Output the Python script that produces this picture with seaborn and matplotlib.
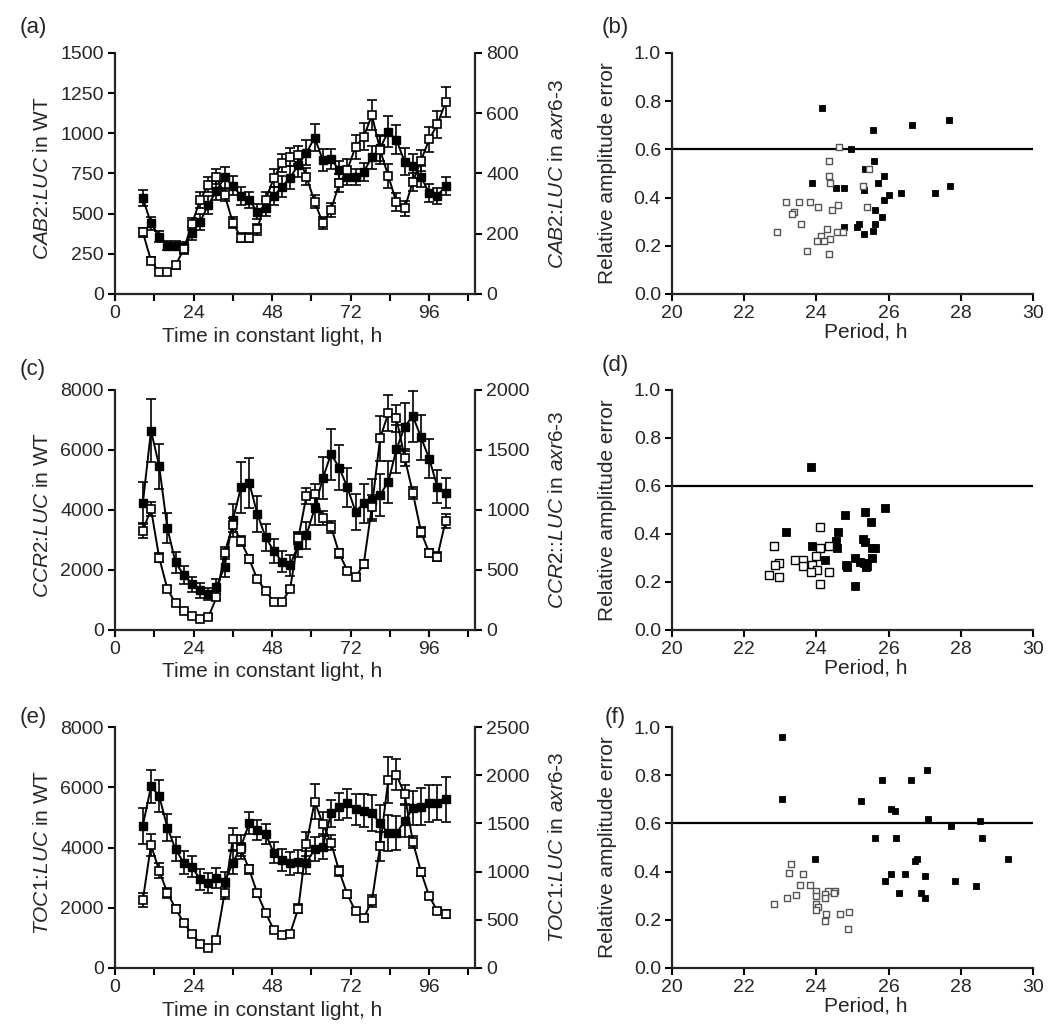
import matplotlib
matplotlib.use("Agg")
import matplotlib.pyplot as plt
import seaborn as sns

# ---------------- data ----------------
hours = [8.5, 11, 13.5, 16, 18.5, 21, 23.5, 26, 28.5, 31, 33.5, 36, 38.5, 41, 43.5,
         46, 48.5, 51, 53.5, 56, 58.5, 61, 63.5, 66, 68.5, 71, 73.5, 76, 78.5, 81,
         83.5, 86, 88.5, 91, 93.5, 96, 98.5, 101]

# (a) CAB2:LUC
cab2_wt = [596, 440, 357, 301, 301, 295, 378, 450, 554, 643, 726, 674, 610, 585, 513,
           533, 610, 668, 724, 803, 880, 973, 834, 840, 772, 730, 730, 761, 851, 907,
           1011, 959, 824, 797, 730, 627, 610, 674]
cab2_wt_err = [50, 40, 35, 30, 30, 30, 40, 50, 55, 60, 65, 60, 55, 50, 45, 45, 55, 65,
               70, 75, 80, 85, 70, 60, 55, 50, 50, 55, 70, 80, 95, 90, 85, 75, 65, 55, 50, 55]
cab2_mut = [205, 111, 72, 72, 95, 149, 232, 312, 362, 389, 329, 237, 187, 187, 215,
            312, 384, 434, 456, 461, 389, 306, 235, 279, 367, 412, 489, 522, 594, 478,
            392, 304, 284, 373, 443, 513, 563, 636]
cab2_mut_err = [15, 12, 10, 10, 12, 15, 20, 25, 25, 25, 20, 18, 15, 15, 18, 25, 30, 30,
                30, 30, 28, 22, 20, 22, 30, 35, 40, 45, 50, 45, 40, 30, 25, 30, 35, 40, 45, 50]

# (c) CCR2:LUC
ccr2_wt = [4222, 6644, 5466, 3389, 2255, 1833, 1533, 1333, 1189, 1444, 2111, 3666, 4755,
           4911, 3866, 3089, 2644, 2278, 2166, 2833, 3166, 4055, 5055, 5866, 5411, 4755,
           3944, 4222, 4333, 4500, 4944, 6022, 6777, 7133, 6422, 5711, 4777, 4555]
ccr2_wt_err = [700, 1050, 750, 500, 350, 300, 250, 250, 200, 250, 350, 550, 850, 830, 600,
               450, 400, 350, 350, 400, 450, 550, 700, 850, 750, 650, 600, 650, 700, 700,
               700, 800, 800, 850, 750, 650, 550, 500]
ccr2_mut = [828, 1008, 603, 342, 222, 161, 117, 89, 106, 272, 644, 875, 742, 592, 422,
            328, 236, 231, 342, 764, 1117, 1133, 931, 861, 639, 494, 439, 550, 1028, 1597,
            1806, 1764, 1436, 1144, 819, 644, 611, 908]
ccr2_mut_err = [60, 60, 40, 25, 20, 15, 12, 12, 15, 25, 50, 60, 45, 30, 25, 20, 15, 15,
                25, 50, 70, 80, 60, 50, 35, 25, 25, 35, 100, 190, 150, 110, 70, 50, 40, 35, 40, 60]

# (e) TOC1:LUC
toc1_wt = [4727, 6025, 5714, 4660, 3939, 3495, 3362, 2940, 2829, 2974, 2863, 3495, 4028,
           4805, 4583, 4449, 3828, 3584, 3473, 3528, 3495, 3939, 4028, 5137, 5359, 5470,
           5271, 5226, 5137, 4805, 4472, 4472, 4882, 5304, 5359, 5470, 5492, 5603]
toc1_wt_err = [600, 550, 530, 450, 400, 380, 350, 350, 330, 330, 340, 380, 400, 360, 340,
               330, 350, 360, 380, 380, 380, 400, 420, 440, 450, 480, 520, 560, 600, 620,
               600, 560, 520, 560, 600, 620, 570, 750]
toc1_mut = [704, 1276, 1009, 780, 617, 468, 357, 253, 211, 295, 780, 1338, 1231, 1023, 773,
            572, 399, 340, 357, 617, 1286, 1727, 1494, 1300, 1005, 763, 589, 520, 697, 1265,
            1952, 2004, 1803, 1310, 998, 745, 593, 558]
toc1_mut_err = [70, 110, 80, 50, 40, 30, 25, 25, 25, 30, 60, 110, 70, 50, 40, 30, 25, 25,
                25, 50, 120, 180, 120, 80, 50, 40, 30, 30, 60, 150, 240, 160, 100, 60, 40, 30, 30, 40]

# (b) scatter
b_per_filled = [24.16, 25.57, 26.66, 27.66, 24.96, 25.60, 25.36, 25.86, 23.88, 25.72, 24.55,
                24.76, 25.32, 26.34, 27.29, 27.69, 26.02, 25.87, 25.62, 25.82, 24.76, 25.13,
                25.18, 25.61, 25.57, 25.33]
b_err_filled = [0.772, 0.682, 0.700, 0.721, 0.600, 0.550, 0.519, 0.490, 0.459, 0.459, 0.438,
                0.438, 0.431, 0.420, 0.420, 0.449, 0.409, 0.390, 0.349, 0.320, 0.280, 0.280,
                0.289, 0.289, 0.262, 0.250]
b_per_open = [24.63, 24.34, 24.35, 24.37, 25.45, 25.29, 23.15, 23.52, 23.81, 24.04, 24.60,
              24.44, 25.41, 23.38, 23.32, 23.57, 22.92, 24.28, 24.57, 24.75, 24.12, 24.39,
              24.03, 24.21, 23.75, 24.34]
b_err_open = [0.609, 0.550, 0.490, 0.459, 0.519, 0.449, 0.380, 0.380, 0.380, 0.359, 0.369,
              0.349, 0.360, 0.341, 0.330, 0.289, 0.259, 0.270, 0.259, 0.259, 0.239, 0.230,
              0.220, 0.220, 0.179, 0.168]

# (d) scatter
d_per_filled = [23.84, 23.17, 24.78, 25.36, 25.89, 25.52, 24.61, 24.55, 25.29, 25.34, 23.89,
                24.58, 25.54, 25.63, 24.23, 25.08, 25.54, 25.20, 25.31, 24.81, 24.86, 25.40,
                25.38, 25.08]
d_err_filled = [0.679, 0.410, 0.479, 0.490, 0.509, 0.448, 0.410, 0.371, 0.379, 0.368, 0.350,
                0.343, 0.341, 0.341, 0.290, 0.299, 0.299, 0.283, 0.279, 0.272, 0.262, 0.268,
                0.262, 0.182]
d_per_open = [24.09, 22.83, 24.09, 24.35, 24.00, 23.40, 23.63, 22.96, 22.84, 23.63, 23.88,
              24.03, 23.86, 24.34, 22.68, 22.96, 24.09]
d_err_open = [0.430, 0.350, 0.341, 0.350, 0.310, 0.292, 0.292, 0.281, 0.269, 0.268, 0.269,
              0.251, 0.241, 0.241, 0.230, 0.221, 0.192]

# (f) scatter
f_per_filled = [23.06, 23.05, 25.23, 25.83, 26.63, 27.05, 26.06, 26.17, 27.08, 28.52, 27.74,
                25.62, 26.20, 28.58, 23.96, 26.72, 26.80, 29.31, 25.91, 26.08, 26.45, 27.00,
                27.84, 28.43, 26.30, 26.90, 27.02]
f_err_filled = [0.959, 0.701, 0.691, 0.779, 0.779, 0.821, 0.661, 0.651, 0.619, 0.612, 0.589,
                0.541, 0.541, 0.541, 0.451, 0.444, 0.451, 0.451, 0.363, 0.390, 0.390, 0.383,
                0.363, 0.342, 0.313, 0.313, 0.292]
f_per_open = [23.29, 23.24, 23.63, 23.54, 23.81, 23.98, 24.32, 24.51, 24.48, 23.43, 23.98,
              24.23, 24.23, 23.18, 22.83, 24.00, 24.05, 24.00, 24.26, 24.66, 24.89, 24.24, 24.88]
f_err_open = [0.432, 0.396, 0.389, 0.345, 0.345, 0.321, 0.321, 0.321, 0.310, 0.303, 0.299,
              0.306, 0.292, 0.292, 0.265, 0.266, 0.255, 0.241, 0.223, 0.223, 0.232, 0.193, 0.163]

x_ticks = [0, 12, 24, 36, 48, 60, 72, 84, 96, 108]
x_ticklabels = ["0", "", "24", "", "48", "", "72", "", "96", ""]

# ---------------- style ----------------
sns.set_style("ticks")
plt.rcParams["font.family"] = ["Liberation Sans", "DejaVu Sans"]
plt.rcParams["mathtext.fontset"] = "custom"
plt.rcParams["mathtext.rm"] = "Liberation Sans"
plt.rcParams["mathtext.it"] = "Liberation Sans:italic"
plt.rcParams["axes.linewidth"] = 1.6
FS = 15
TFS = 14

W, H = 1050, 1026
fig = plt.figure(figsize=(W / 100, H / 100), dpi=100)


def rect(x0, x1, y0, y1):
    return [x0 / W, 1 - y1 / H, (x1 - x0) / W, (y1 - y0) / H]


rows = [(53, 294), (390, 630), (727, 968)]
LX = (115, 475)
RX = (672, 1033)


def style_ticks(ax):
    ax.tick_params(direction="out", length=5, width=1.5, labelsize=TFS, pad=3, color="k")


def draw_ts(ax, wt, wt_err, mut, mut_err, ymax_l, ystep_l, ymax_r, ystep_r, lab_l, lab_r):
    ax2 = ax.twinx()
    ax.errorbar(hours, wt, yerr=wt_err, fmt="none", ecolor="k", elinewidth=1.2,
                capsize=3.5, capthick=1.2, zorder=2)
    sns.lineplot(x=hours, y=wt, ax=ax, color="k", linewidth=1.4, marker="s",
                 markersize=5.2, markerfacecolor="k", markeredgecolor="k",
                 markeredgewidth=1.0, errorbar=None, zorder=3)
    ax2.errorbar(hours, mut, yerr=mut_err, fmt="none", ecolor="k", elinewidth=1.2,
                 capsize=3.5, capthick=1.2, zorder=2)
    sns.lineplot(x=hours, y=mut, ax=ax2, color="k", linewidth=1.4, marker="s",
                 markersize=5.2, markerfacecolor="white", markeredgecolor="k",
                 markeredgewidth=1.2, errorbar=None, zorder=3)
    ax.set_xlim(0, 110)
    ax.set_ylim(0, ymax_l)
    ax2.set_ylim(0, ymax_r)
    ax.set_yticks(list(range(0, ymax_l + 1, ystep_l)))
    ax2.set_yticks(list(range(0, ymax_r + 1, ystep_r)))
    ax.set_xticks(x_ticks)
    ax.set_xticklabels(x_ticklabels)
    for s in ["top", "right"]:
        ax.spines[s].set_visible(False)
    for s in ["top", "left", "bottom"]:
        ax2.spines[s].set_visible(False)
    ax2.spines["right"].set_linewidth(1.6)
    style_ticks(ax)
    style_ticks(ax2)
    ax.set_xlabel("Time in constant light, h", fontsize=FS)
    ax.xaxis.set_label_coords(0.436, -0.135)
    ax.set_ylabel(lab_l, fontsize=FS)
    ax.yaxis.set_label_coords(-0.175, 0.48)
    ax2.set_ylabel(lab_r, fontsize=FS, rotation=90)
    ax2.yaxis.set_label_coords(1.203, 0.5)


def draw_sc(ax, pf, ef, po, eo, s_f, s_o, open_edge):
    sns.scatterplot(x=pf, y=ef, ax=ax, marker="s", s=s_f, color="k",
                    edgecolor="k", linewidth=0.6, zorder=3)
    sns.scatterplot(x=po, y=eo, ax=ax, marker="s", s=s_o, color="white",
                    edgecolor=open_edge, linewidth=1.0, zorder=3)
    ax.axhline(0.6, color="k", linewidth=1.6, zorder=2)
    ax.set_xlim(20, 30)
    ax.set_ylim(0, 1.0)
    ax.set_xticks([20, 22, 24, 26, 28, 30])
    ax.set_yticks([0.0, 0.2, 0.4, 0.6, 0.8, 1.0])
    ax.set_yticklabels(["0.0", "0.2", "0.4", "0.6", "0.8", "1.0"])
    for s in ["top", "right"]:
        ax.spines[s].set_visible(False)
    style_ticks(ax)
    ax.set_xlabel("Period, h", fontsize=FS)
    ax.xaxis.set_label_coords(0.537, -0.12)
    ax.set_ylabel("Relative amplitude error", fontsize=FS)
    ax.yaxis.set_label_coords(-0.152, 0.5)


axa = fig.add_axes(rect(LX[0], LX[1], *rows[0]))
draw_ts(axa, cab2_wt, cab2_wt_err, cab2_mut, cab2_mut_err, 1500, 250, 800, 200,
        r"$\mathit{CAB2}$:$\mathit{LUC}$ in WT",
        r"$\mathit{CAB2}$:$\mathit{LUC}$ in $\mathit{axr6}$-$\mathit{3}$")
axc = fig.add_axes(rect(LX[0], LX[1], *rows[1]))
draw_ts(axc, ccr2_wt, ccr2_wt_err, ccr2_mut, ccr2_mut_err, 8000, 2000, 2000, 500,
        r"$\mathit{CCR2}$:$\mathit{LUC}$ in WT",
        r"$\mathit{CCR2}$::$\mathit{LUC}$ in $\mathit{axr6}$-$\mathit{3}$")
axe = fig.add_axes(rect(LX[0], LX[1], *rows[2]))
draw_ts(axe, toc1_wt, toc1_wt_err, toc1_mut, toc1_mut_err, 8000, 2000, 2500, 500,
        r"$\mathit{TOC1}$:$\mathit{LUC}$ in WT",
        r"$\mathit{TOC1}$:$\mathit{LUC}$ in $\mathit{axr6}$-$\mathit{3}$")

axb = fig.add_axes(rect(RX[0], RX[1], *rows[0]))
draw_sc(axb, b_per_filled, b_err_filled, b_per_open, b_err_open, 22, 22, "#555555")
axd = fig.add_axes(rect(RX[0], RX[1], *rows[1]))
draw_sc(axd, d_per_filled, d_err_filled, d_per_open, d_err_open, 28, 28, "black")
axf = fig.add_axes(rect(RX[0], RX[1], *rows[2]))
draw_sc(axf, f_per_filled, f_err_filled, f_per_open, f_err_open, 24, 22, "#555555")

for lab, x, y in [("(a)", 33, 27), ("(b)", 615, 27), ("(c)", 33, 370),
                  ("(d)", 615, 366), ("(e)", 33, 717), ("(f)", 615, 717)]:
    fig.text(x / W, 1 - y / H, lab, ha="center", va="center", fontsize=16)

fig.savefig("out.png", dpi=100)
